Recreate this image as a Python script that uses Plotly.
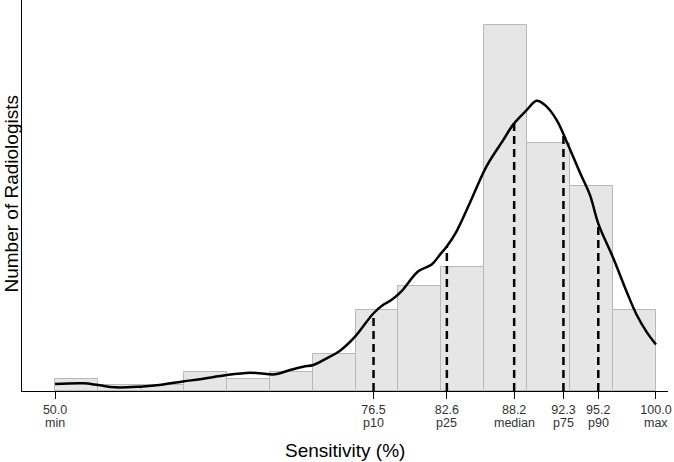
import plotly.graph_objects as go
import numpy as np

# histogram: 14 bins between 50 and 100
bin_lo = 50.0
bin_hi = 100.0
counts = [2, 1, 1, 3, 2, 3, 6, 13, 17, 20, 59, 40, 33, 13]

# density curve (scaled to counts)
curve_x = [50.0, 52.35, 53.58, 54.99, 57.07, 58.46, 60.65, 62.06, 64.28, 66.22,
           67.05, 68.30, 69.55, 70.66, 71.49, 72.60, 73.71, 74.96, 76.48, 77.31,
           78.01, 78.84, 80.22, 81.34, 82.03, 82.59, 83.42, 84.53, 85.92, 87.30,
           88.13, 89.24, 90.07, 90.77, 91.74, 92.57, 93.68, 94.51, 95.20, 96.45,
           97.56, 98.39, 99.23, 100.0]
curve_y = [1.13, 1.24, 0.97, 0.6, 0.7, 0.91, 1.55, 1.9, 2.58, 2.95,
           2.85, 2.69, 3.39, 3.92, 4.19, 5.27, 6.5, 8.76, 12.5, 13.9,
           14.7, 16.1, 19.3, 20.4, 22.0, 23.3, 25.8, 30.4, 36.3, 40.5,
           43.0, 45.3, 46.8, 46.1, 43.7, 40.2, 35.2, 31.6, 27.0, 21.4,
           16.0, 12.3, 9.5, 7.5]

# percentile markers
pct_values = [76.5, 82.6, 88.2, 92.3, 95.2]
tick_values = [50.0, 76.5, 82.6, 88.2, 92.3, 95.2, 100.0]
tick_names = ["min", "p10", "p25", "median", "p75", "p90", "max"]

edges = np.linspace(bin_lo, bin_hi, len(counts) + 1)
centers = (edges[:-1] + edges[1:]) / 2
width = edges[1] - edges[0]

fig = go.Figure()

fig.add_trace(go.Bar(
    x=centers, y=counts, width=width,
    marker=dict(color="rgb(230,230,230)", line=dict(color="rgb(185,185,185)", width=1)),
    showlegend=False, hoverinfo="skip"
))

# dashed lines from the axis up to the curve
dx, dy = [], []
for p in pct_values:
    dx += [p, p, None]
    dy += [0, float(np.interp(p, curve_x, curve_y)), None]
fig.add_trace(go.Scatter(
    x=dx, y=dy, mode="lines",
    line=dict(color="black", width=2.5, dash="8px,5px"),
    showlegend=False
))

fig.add_trace(go.Scatter(
    x=curve_x, y=curve_y, mode="lines", line_shape="spline",
    line=dict(color="black", width=2.5),
    showlegend=False
))

fig.update_xaxes(
    range=[47.25, 101.0],
    tickvals=tick_values, ticktext=["%.1f" % v for v in tick_values],
    ticks="outside", ticklen=7, tickcolor="black", tickwidth=1,
    showline=True, linecolor="black", linewidth=1,
    showgrid=False, zeroline=False, automargin=False,
    tickfont=dict(size=12.5, color="#333333")
)
fig.update_yaxes(
    range=[0, 63.06],
    showticklabels=False, ticks="",
    showline=True, linecolor="black", linewidth=1,
    showgrid=False, zeroline=False
)

# second row of tick labels
for v, n in zip(tick_values, tick_names):
    fig.add_annotation(text=n, x=v, xref="x", yref="paper", y=-0.081,
                       yanchor="middle", showarrow=False,
                       font=dict(size=12.5, color="#333333"))

fig.add_annotation(text="Sensitivity (%)", xref="paper", yref="paper",
                   x=0.5, y=-0.151, yanchor="middle", showarrow=False,
                   font=dict(size=19, color="black"))
fig.add_annotation(text="Number of Radiologists", xref="paper", yref="paper",
                   x=-0.0155, y=0.505, textangle=-90, xanchor="center", yanchor="middle",
                   showarrow=False, font=dict(size=19, color="black"))

fig.update_layout(
    width=674, height=462,
    margin=dict(l=22, r=6, t=0, b=71, pad=0),
    plot_bgcolor="white", paper_bgcolor="white",
    font=dict(family="Liberation Sans, Arial, sans-serif"),
    bargap=0
)

fig.write_html("out.html", config={"displayModeBar": False},
               post_script="document.body.style.margin='0';")
